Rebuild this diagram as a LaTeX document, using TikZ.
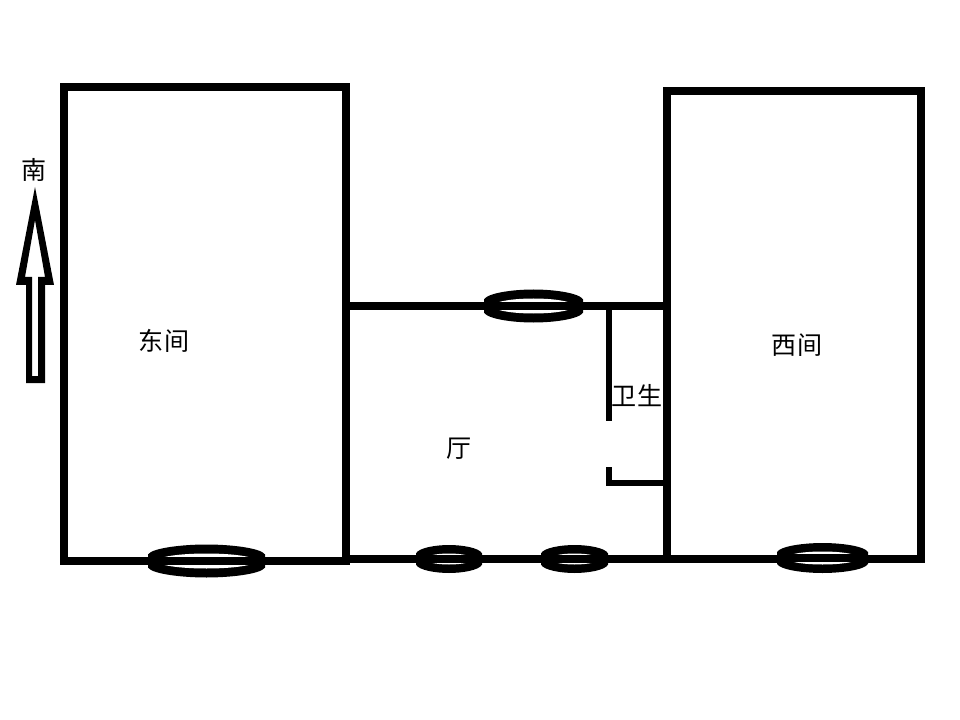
\documentclass[tikz,border=0pt]{standalone}
\usepackage{fontspec}
\newfontfamily\cjk{Noto Sans CJK SC}[Scale=1]
\tikzset{
  wall/.style={line width=5.7pt,line cap=butt,line join=miter,black},
  thinwall/.style={line width=4.6pt,line cap=butt,black},
  winbar/.style={line width=6pt,line cap=butt,black},
  label/.style={font=\cjk\fontsize{18.8pt}{20pt}\selectfont,inner sep=0pt,text=black}
}
\begin{document}
\begin{tikzpicture}[x=0.75pt,y=-0.75pt]
\useasboundingbox[fill=white] (0,0) rectangle (960,720);
% rooms
\draw[wall] (64,87) rectangle (346,561);
\draw[wall] (667,91) rectangle (921,559);
\draw[wall] (346,306) -- (667,306);
\draw[wall] (346,559) -- (667,559);
% bathroom
\draw[thinwall] (609,306) -- (609,421);
\draw[thinwall] (609,467) -- (609,485);
\draw[thinwall] (606,483) -- (665,483);
% windows: left, right, centre y, outer half height, inner half height
\foreach \l/\r/\cy/\ho/\hi in {148/265/561/16.5/7.5, 484/583/306/16.5/7.5, 416/482/559/14/5.5, 541/608/559/14/5.5, 777/868/558/15/6.5}{
  \fill[black] (\l,\cy-0.4*\ho)
    .. controls (\l+0.04*\r-0.04*\l,\cy-0.8*\ho) and (\l+0.3*\r-0.3*\l,\cy-\ho) .. (0.5*\l+0.5*\r,\cy-\ho)
    .. controls (\r-0.3*\r+0.3*\l,\cy-\ho) and (\r-0.04*\r+0.04*\l,\cy-0.8*\ho) .. (\r,\cy-0.4*\ho)
    -- (\r,\cy+0.4*\ho)
    .. controls (\r-0.04*\r+0.04*\l,\cy+0.8*\ho) and (\r-0.3*\r+0.3*\l,\cy+\ho) .. (0.5*\l+0.5*\r,\cy+\ho)
    .. controls (\l+0.3*\r-0.3*\l,\cy+\ho) and (\l+0.04*\r-0.04*\l,\cy+0.8*\ho) .. (\l,\cy+0.4*\ho)
    -- cycle;
  \fill[white] (0.5*\l+0.5*\r,\cy) ellipse [x radius={0.5*\r-0.5*\l-9}, y radius=\hi];
  \draw[winbar] (\l,\cy) -- (\r,\cy);
}
% north arrow
\fill[black,even odd rule]
  (35,187) -- (54,285) -- (45,285) -- (45,383) -- (26,383) -- (26,285) -- (16,285) -- cycle
  (35,220) -- (25,277) -- (32,277) -- (32,376) -- (38,376) -- (38,277) -- (45,277) -- cycle;
% labels
\node[label] (south) at (34,170) {南};
\node[label] (east) at (164,341) {东间};
\node[label] (west) at (797,345) {西间};
\node[label] (hall) at (459,449) {厅};
\node[label] (bath) at (637,396) {卫生};
\end{tikzpicture}
\end{document}
